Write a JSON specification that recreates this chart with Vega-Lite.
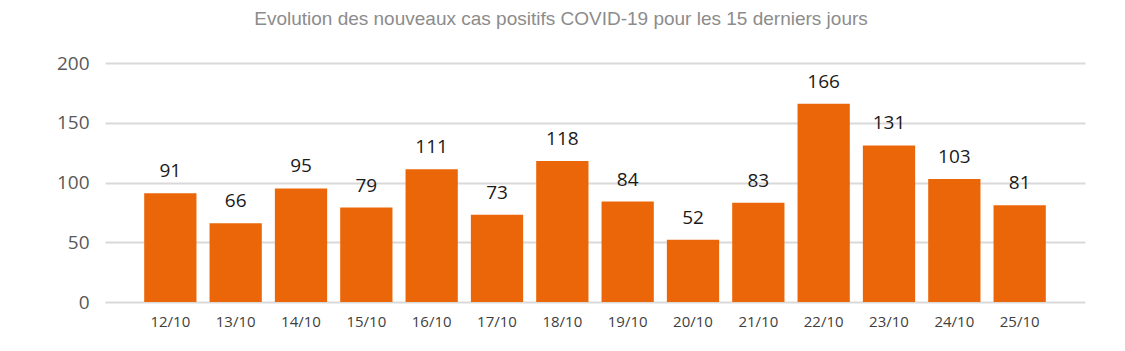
{
  "$schema": "https://vega.github.io/schema/vega-lite/v6.json",
  "autosize": {"type": "none"},
  "width": 980,
  "height": 239,
  "padding": {"left": 105, "top": 63, "right": 40, "bottom": 49},
  "background": "white",
  "title": {
    "text": "Evolution des nouveaux cas positifs COVID-19 pour les 15 derniers jours",
    "font": "Liberation Sans",
    "fontSize": 19,
    "fontWeight": "normal",
    "color": "#8c8c8c",
    "anchor": "middle",
    "dx": -34,
    "offset": 25
  },
  "data": {
    "values": [
      {"date": "12/10", "cas": 91},
      {"date": "13/10", "cas": 66},
      {"date": "14/10", "cas": 95},
      {"date": "15/10", "cas": 79},
      {"date": "16/10", "cas": 111},
      {"date": "17/10", "cas": 73},
      {"date": "18/10", "cas": 118},
      {"date": "19/10", "cas": 84},
      {"date": "20/10", "cas": 52},
      {"date": "21/10", "cas": 83},
      {"date": "22/10", "cas": 166},
      {"date": "23/10", "cas": 131},
      {"date": "24/10", "cas": 103},
      {"date": "25/10", "cas": 81}
    ]
  },
  "encoding": {
    "x": {
      "field": "date",
      "type": "nominal",
      "sort": null,
      "scale": {"paddingInner": 0.2, "paddingOuter": 0.6},
      "axis": {
        "title": null,
        "labelAngle": 0,
        "labelFont": "Open Sans",
        "labelFontSize": 15,
        "labelColor": "#404040",
        "labelPadding": 12,
        "domain": false,
        "ticks": false,
        "grid": false
      }
    },
    "y": {
      "field": "cas",
      "type": "quantitative",
      "scale": {"domain": [0, 200]},
      "axis": {
        "title": null,
        "values": [0, 50, 100, 150, 200],
        "labelFont": "Open Sans",
        "labelFontSize": 19,
        "labelColor": "#595959",
        "labelPadding": 16,
        "domain": false,
        "ticks": false,
        "grid": true,
        "gridColor": "#d9d9d9",
        "gridWidth": 2
      }
    }
  },
  "layer": [
    {"mark": {"type": "bar", "color": "#EB6608"}},
    {
      "mark": {
        "type": "text",
        "baseline": "bottom",
        "dy": -12,
        "font": "Open Sans",
        "fontSize": 19,
        "color": "#1a1a1a"
      },
      "encoding": {"text": {"field": "cas", "type": "quantitative"}}
    }
  ],
  "config": {"view": {"stroke": null}}
}
